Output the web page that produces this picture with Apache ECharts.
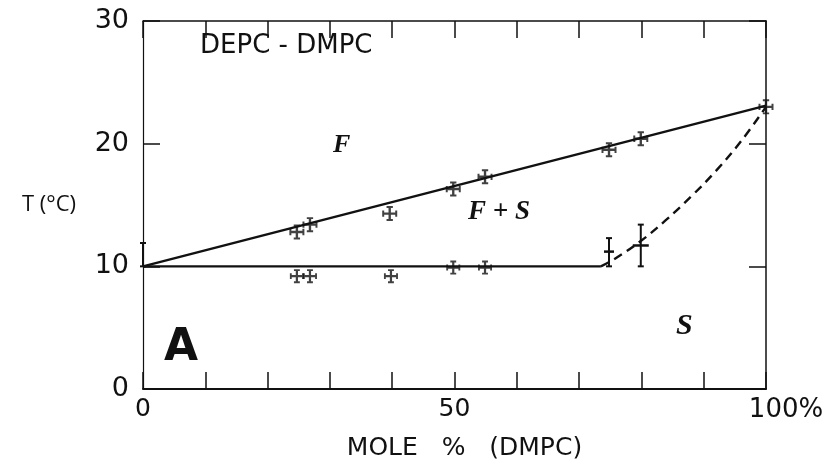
<!DOCTYPE html>
<html>
<head>
<meta charset="utf-8">
<script src="https://cdn.jsdelivr.net/npm/echarts@6/dist/echarts.min.js"></script>
<style>
  html, body { margin: 0; padding: 0; background: #fff; }
  #chart { width: 830px; height: 471px; }
</style>
</head>
<body>
<div id="chart"></div>
<script>
// liquidus (upper) measured points
let upperX = [24.7, 26.8, 39.6, 49.8, 54.9, 74.8, 79.9, 100];
let upperY = [12.8, 13.4, 14.3, 16.3, 17.3, 19.5, 20.4, 23.0];
// solidus (lower) measured points
let lowerX = [24.7, 26.8, 39.8, 49.8, 54.9];
let lowerY = [9.2, 9.2, 9.2, 9.9, 9.9];
// points drawn with error bars: x, y, low, high, half width of the bar
let errX = [0, 74.8, 79.9];
let errY = [10, 11.2, 11.7];
let errLo = [10, 10.0, 10.0];
let errHi = [11.9, 12.3, 13.4];
let errW = [0, 5, 8];
// boundary lines
let liquidusLine = [[0, 10], [100, 23.1]];
let solidusFlat = [[0, 10], [73.5, 10]];
let solidusCurve = [[73.5, 10], [76, 10.7], [80, 12.1], [84, 13.8], [88, 15.7], [92, 17.8], [96, 20.2], [100, 23.0]];
// tick labels
let xLabels = {0: '0', 50: '50', 100: '{p|100%}'};
let yLabels = {0: '0', 10: '10', 20: '20', 30: '30'};

let font = 'DejaVu Sans';
let ink = '#111';
// cross with serif ends
let crossPath = 'path://M8.5,2L11.5,2L11.5,8.5L18,8.5L18,11.5L11.5,11.5L11.5,18L8.5,18L8.5,11.5L2,11.5L2,8.5L8.5,8.5Z' +
    'M6,0.5L14,0.5L14,3L6,3Z M6,17L14,17L14,19.5L6,19.5Z M0.5,6L3,6L3,14L0.5,14Z M17,6L19.5,6L19.5,14L17,14Z';

let zip = function (xs, ys) {
    return xs.map(function (x, i) { return [x, ys[i]]; });
};

let myChart = echarts.init(document.getElementById('chart'));

let tickStyle = {show: true, inside: true, length: 17, lineStyle: {color: ink, width: 1.5}};

let option = {
    animation: false,
    backgroundColor: '#fff',
    grid: {left: 143, right: 64, top: 21, bottom: 82},
    xAxis: [
        {
            type: 'value', position: 'bottom', min: 0, max: 100, interval: 10,
            splitLine: {show: false},
            axisLine: {onZero: false, lineStyle: {color: ink, width: 2}},
            axisTick: tickStyle,
            axisLabel: {
                margin: 8, color: ink, fontFamily: font, fontSize: 25,
                formatter: function (v) { return xLabels[v] || ''; },
                rich: {p: {fontFamily: font, fontSize: 26, color: ink, padding: [0, 0, 0, 40]}}
            },
            name: 'MOLE   %   (DMPC)', nameLocation: 'middle', nameGap: 47,
            nameTextStyle: {color: ink, fontFamily: font, fontSize: 25, padding: [0, 0, 0, 20]}
        },
        {
            type: 'value', position: 'top', min: 0, max: 100, interval: 10,
            splitLine: {show: false},
            axisLine: {onZero: false, lineStyle: {color: ink, width: 1.5}},
            axisTick: tickStyle,
            axisLabel: {show: false}
        }
    ],
    yAxis: [
        {
            type: 'value', position: 'left', min: 0, max: 30, interval: 10,
            splitLine: {show: false},
            axisLine: {onZero: false, lineStyle: {color: ink, width: 1.2}},
            axisTick: tickStyle,
            axisLabel: {
                margin: 14, color: ink, fontFamily: font, fontSize: 27,
                formatter: function (v) { return yLabels[v] || ''; }
            },
            name: 'T (°C)', nameLocation: 'middle', nameRotate: 0, nameGap: 67,
            nameTextStyle: {color: ink, fontFamily: 'Open Sans', fontSize: 22, padding: [0, 0, 30, 0]}
        },
        {
            type: 'value', position: 'right', min: 0, max: 30, interval: 10,
            splitLine: {show: false},
            axisLine: {onZero: false, lineStyle: {color: ink, width: 1.5}},
            axisTick: tickStyle,
            axisLabel: {show: false}
        }
    ],
    graphic: [
        {type: 'text', left: 200, top: 33, style: {text: 'DEPC - DMPC', font: '26px "DejaVu Sans"', fill: ink}},
        {type: 'text', left: 333, top: 132, style: {text: 'F', font: 'italic bold 26px "Liberation Serif"', fill: ink}},
        {type: 'text', left: 468, top: 199, style: {text: 'F + S', font: 'italic bold 27px "Liberation Serif"', fill: ink}},
        {type: 'text', left: 676, top: 311, style: {text: 'S', font: 'italic bold 30px "Liberation Serif"', fill: ink}},
        {type: 'text', left: 164, top: 327, style: {text: 'A', font: 'bold 44px "DejaVu Sans"', fill: ink}}
    ],
    series: [
        {
            type: 'line', data: liquidusLine, symbol: 'none',
            lineStyle: {color: ink, width: 2.4}
        },
        {
            type: 'line', data: solidusFlat, symbol: 'none',
            lineStyle: {color: ink, width: 2.4}
        },
        {
            type: 'line', data: solidusCurve, symbol: 'none', smooth: 0.4,
            lineStyle: {color: ink, width: 2.4, type: [9, 6]}
        },
        {
            type: 'scatter', data: zip(upperX, upperY), symbol: crossPath, symbolSize: 15,
            itemStyle: {color: ink}, z: 5
        },
        {
            type: 'scatter', data: zip(lowerX, lowerY), symbol: crossPath, symbolSize: 14,
            itemStyle: {color: ink}, z: 5
        },
        {
            type: 'custom',
            data: errX.map(function (x, i) { return [x, errY[i], errLo[i], errHi[i], errW[i]]; }),
            renderItem: function (params, api) {
                let c = api.coord([api.value(0), api.value(1)]);
                let lo = api.coord([api.value(0), api.value(2)]);
                let hi = api.coord([api.value(0), api.value(3)]);
                let hw = api.value(4);
                let st = {stroke: ink, lineWidth: 2};
                let kids = [
                    {type: 'line', shape: {x1: lo[0], y1: lo[1], x2: hi[0], y2: hi[1]}, style: st},
                    {type: 'line', shape: {x1: hi[0] - 3, y1: hi[1], x2: hi[0] + 3, y2: hi[1]}, style: st},
                    {type: 'line', shape: {x1: lo[0] - 3, y1: lo[1], x2: lo[0] + 3, y2: lo[1]}, style: st}
                ];
                if (hw > 0) {
                    kids.push({type: 'line', shape: {x1: c[0] - hw, y1: c[1], x2: c[0] + hw, y2: c[1]}, style: {stroke: ink, lineWidth: 2.5}});
                }
                return {type: 'group', children: kids};
            },
            z: 5
        }
    ]
};
myChart.setOption(option);
</script>
</body>
</html>
